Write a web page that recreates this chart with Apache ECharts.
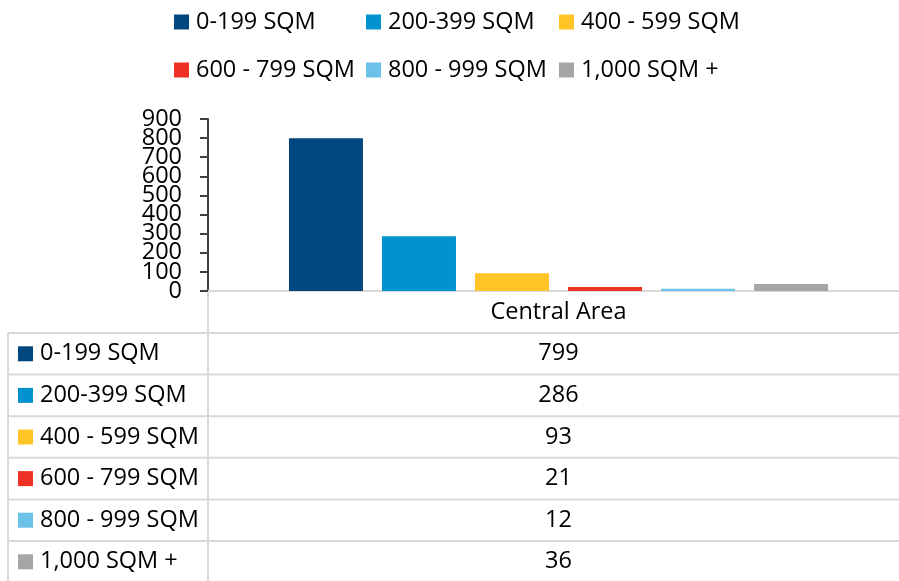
<!DOCTYPE html>
<html><head><meta charset="utf-8">
<script src="https://cdn.jsdelivr.net/npm/echarts@6/dist/echarts.min.js"></script>
<style>html,body{margin:0;padding:0;background:#fff}#c{width:899px;height:581px}</style>
</head><body><div id="c"></div>
<script>
const categories = ['Central Area'];
const seriesNames = ['0-199 SQM', '200-399 SQM', '400 - 599 SQM', '600 - 799 SQM', '800 - 999 SQM', '1,000 SQM +'];
const sqm0_199 = [799];
const sqm200_399 = [286];
const sqm400_599 = [93];
const sqm600_799 = [21];
const sqm800_999 = [12];
const sqm1000plus = [36];
const seriesValues = [sqm0_199, sqm200_399, sqm400_599, sqm600_799, sqm800_999, sqm1000plus];
const yMin = 0, yMax = 900, yInterval = 100;
const yTickLabels = [0, 100, 200, 300, 400, 500, 600, 700, 800, 900];

const colors = ['#00477f', '#0093d0', '#ffc425', '#ee3124', '#6bc1e8', '#a6a6a6'];
const FONT = 'Open Sans';
const FS = 23.5;
const gridColor = '#d9d9d9';

const chart = echarts.init(document.getElementById('c'), null, {renderer: 'canvas'});

const legendCols = [174, 366, 559];
const legendRows = [10, 58];

const option = {
  animation: false,
  textStyle: {fontFamily: FONT},
  legend: seriesNames.map((n, i) => ({
    data: [n],
    left: legendCols[i % 3],
    top: legendRows[Math.floor(i / 3)],
    icon: 'rect',
    itemWidth: 15,
    itemHeight: 15,
    padding: 0,
    selectedMode: false,
    textStyle: {fontFamily: FONT, fontSize: FS, color: '#000', padding: [0, 0, 0, 2]}
  })),
  grid: {left: 208, width: 701, top: 119, bottom: 290, containLabel: false, outerBoundsMode: 'none'},
  xAxis: {
    type: 'category',
    data: categories,
    axisLine: {lineStyle: {color: gridColor, width: 2}},
    axisTick: {show: false},
    axisLabel: {margin: 9, fontFamily: FONT, fontSize: FS, color: '#000'}
  },
  yAxis: {
    type: 'value',
    min: yMin, max: yMax, interval: yInterval,
    axisLine: {show: true, lineStyle: {color: '#404040', width: 2}},
    axisTick: {show: true, length: 8, lineStyle: {color: '#404040', width: 2}},
    splitLine: {show: false},
    axisLabel: {show: false}
  },
  series: seriesNames.map((n, i) => ({
    name: n,
    type: 'bar',
    data: seriesValues[i],
    barWidth: 74,
    barGap: '25.7%',
    itemStyle: {color: colors[i]}
  }))
};
chart.setOption(option);

// tick labels (overlapping in the original, so drawn at the axis' own tick positions)
const font = FS + 'px "' + FONT + '"';
const g = [];
yTickLabels.forEach(v => {
  const y = chart.convertToPixel({yAxisIndex: 0}, v);
  g.push({type: 'text', x: 182, y: y, z: 10, style: {text: String(v), font: font, fill: '#000', align: 'right', textAlign: 'right', verticalAlign: 'middle', textVerticalAlign: 'middle'}, silent: true});
});

// data table below the plot
const tableLeft = 8, labelColRight = 208, tableTop = 333, rowH = 41.6, tableRight = 899;
const catX = chart.convertToPixel({xAxisIndex: 0}, 0);
const axisY = chart.convertToPixel({yAxisIndex: 0}, 0);
const lineStyle = {stroke: gridColor, lineWidth: 2};
for (let r = 0; r <= seriesNames.length; r++) {
  const y = tableTop + r * rowH;
  g.push({type: 'line', shape: {x1: tableLeft, y1: y, x2: tableRight, y2: y}, style: lineStyle, silent: true});
}
g.push({type: 'line', shape: {x1: tableLeft, y1: tableTop, x2: tableLeft, y2: 600}, style: lineStyle, silent: true});
g.push({type: 'line', shape: {x1: labelColRight, y1: axisY, x2: labelColRight, y2: 600}, style: lineStyle, silent: true});
seriesNames.forEach((n, i) => {
  const cy = tableTop + (i + 0.5) * rowH;
  g.push({type: 'rect', shape: {x: 18, y: cy - 7.5, width: 15, height: 15}, style: {fill: colors[i]}, silent: true});
  g.push({type: 'text', x: 40, y: cy, style: {text: n, font: font, fill: '#000', textVerticalAlign: 'middle', verticalAlign: 'middle'}, silent: true});
  g.push({type: 'text', x: catX, y: cy, style: {text: String(seriesValues[i][0]), font: font, fill: '#000', align: 'center', textAlign: 'center', verticalAlign: 'middle', textVerticalAlign: 'middle'}, silent: true});
});
chart.setOption({graphic: {elements: g}});
</script>
</body></html>
